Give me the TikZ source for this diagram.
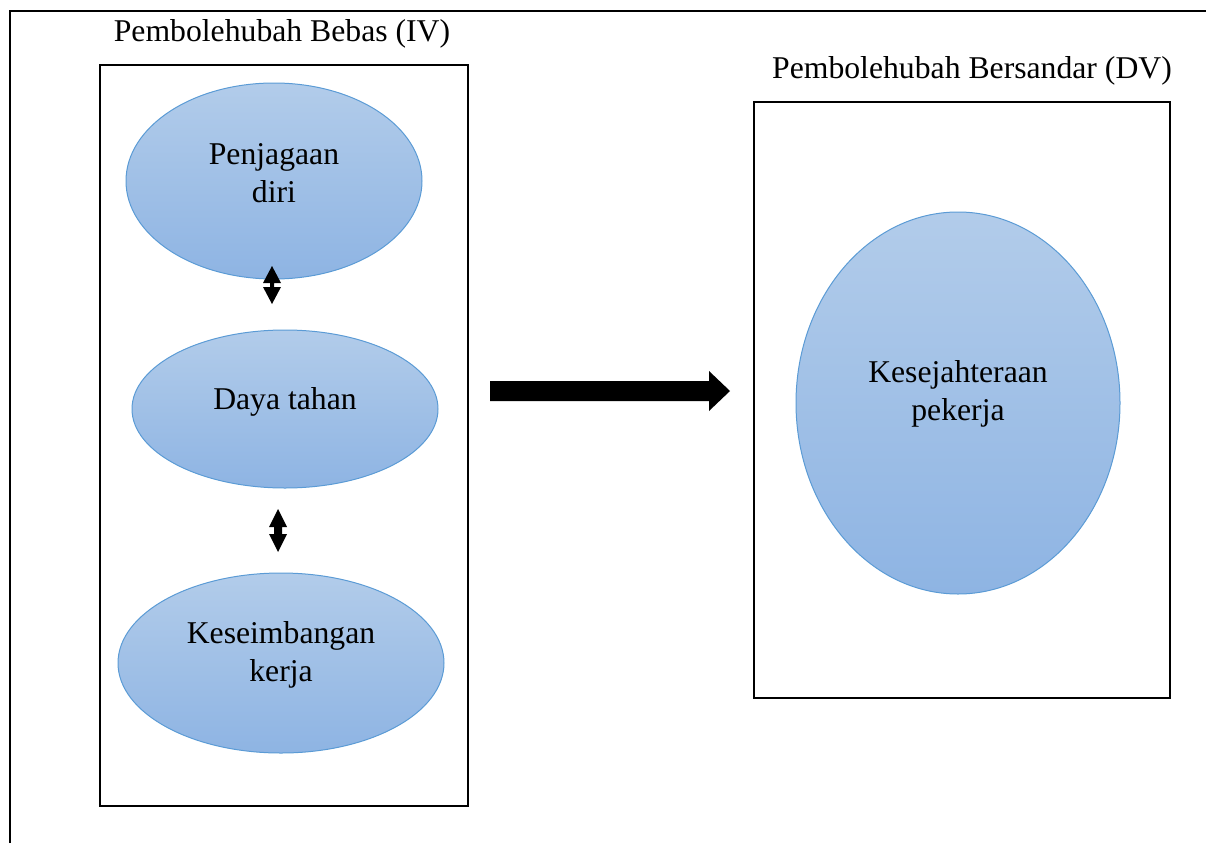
\documentclass[tikz,border=0pt]{standalone}
\usepackage{fontspec}
\setmainfont{Liberation Serif}
\begin{document}
\begin{tikzpicture}[x=1pt,y=-1pt,
  lbl/.style={font=\fontsize{31.7}{38}\selectfont, align=center, inner sep=0pt},
  ell/.style={draw=elline, line width=1pt, top color=elltop, bottom color=ellbot},
  frame/.style={draw=black, line width=2.2pt},
  dbl/.style={fill=black}]
\definecolor{elline}{HTML}{5B9BD5}
\definecolor{elltop}{HTML}{B2CCEA}
\definecolor{ellbot}{HTML}{8EB4E3}
\useasboundingbox (0,0) rectangle (1206,843);
% outer frame
\draw[line width=2.5pt] (10,843) -- (10,11) -- (1206,11);
% boxes
\draw[frame] (100,65) rectangle (468,806);
\draw[frame] (754,102) rectangle (1170,698);
\node[lbl] (t1) at (282,34) {Pembolehubah Bebas (IV)};
\node[lbl] (t2) at (972,71) {Pembolehubah Bersandar (DV)};
% ellipses
\path[ell] (274,181) ellipse [x radius=148, y radius=98];
\node[lbl] (e1) at (274,173) {Penjagaan\\diri};
\path[ell] (285,409) ellipse [x radius=153, y radius=79];
\node[lbl] (e2) at (285,402) {Daya tahan};
\path[ell] (281,663) ellipse [x radius=163, y radius=90];
\node[lbl] (e3) at (281,655) {Keseimbangan\\kerja};
\path[ell] (958,403) ellipse [x radius=162, y radius=191];
\node[lbl] (e4) at (958,394) {Kesejahteraan\\pekerja};
% double arrows
\coordinate (a1t) at (272,266);
\coordinate (a1b) at (272,304);
\fill[dbl] (a1t) -- ++(9,17) -- ++(-7,0) -- ++(0,4) -- ++(7,0) -- (a1b) -- ++(-9,-17) -- ++(7,0) -- ++(0,-4) -- ++(-7,0) -- cycle;
\coordinate (a2t) at (278,509);
\coordinate (a2b) at (278,552);
\fill[dbl] (a2t) -- ++(9,18) -- ++(-5,0) -- ++(0,7) -- ++(5,0) -- (a2b) -- ++(-9,-18) -- ++(5,0) -- ++(0,-7) -- ++(-5,0) -- cycle;
% big arrow
\coordinate (bs) at (490,381);
\coordinate (bt) at (730,391);
\fill[black] (bs) -- (709,381) -- (709,371) -- (bt) -- (709,411) -- (709,401) -- (490,401) -- cycle;
\end{tikzpicture}
\end{document}
